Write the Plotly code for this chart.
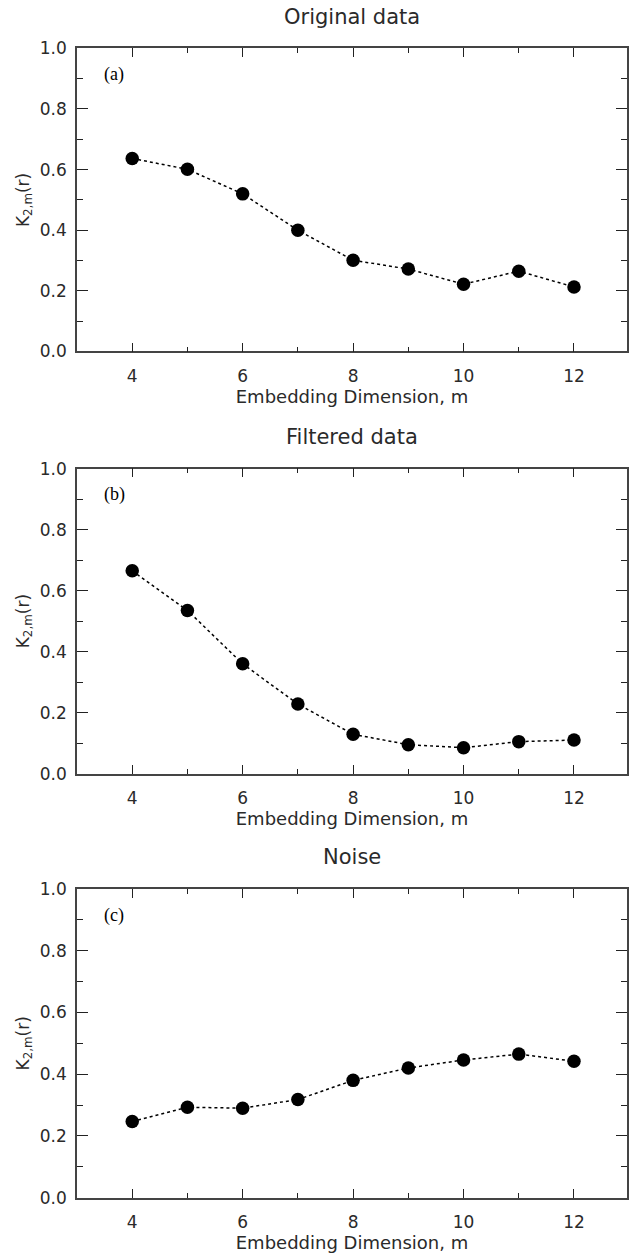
import plotly.graph_objects as go

m = [4, 5, 6, 7, 8, 9, 10, 11, 12]
k_original = [0.637, 0.601, 0.520, 0.400, 0.301, 0.272, 0.222, 0.265, 0.213]
k_filtered = [0.665, 0.535, 0.360, 0.228, 0.129, 0.095, 0.085, 0.105, 0.110]
k_noise = [0.247, 0.293, 0.290, 0.318, 0.380, 0.420, 0.446, 0.465, 0.442]

titles = ["Original data", "Filtered data", "Noise"]
panel_labels = ["(a)", "(b)", "(c)"]
series = [k_original, k_filtered, k_noise]

W, H = 629, 1257
# pixel positions (top, bottom) of each plot area
panels_px = [(39, 347), (466, 776), (893, 1207)]

fig = go.Figure()
tick_font = dict(family="DejaVu Sans", size=17, color="#2a2a2a")
title_font = dict(family="DejaVu Sans", size=18, color="#2a2a2a")

for i, (vals, (top, bot)) in enumerate(zip(series, panels_px)):
    n = "" if i == 0 else str(i + 1)
    xa = "xaxis" + n
    ya = "yaxis" + n
    fig.add_trace(go.Scatter(
        x=m, y=vals, mode="lines+markers",
        line=dict(color="black", width=1.5, dash="dot"),
        marker=dict(color="black", size=13.5),
        xaxis="x" + n, yaxis="y" + n, showlegend=False,
    ))
    dom = [1 - bot / H, 1 - top / H]
    fig.layout[xa] = dict(
        domain=[0, 1], anchor="y" + n, range=[3, 12.96],
        tickmode="linear", tick0=4, dtick=2,
        ticks="inside", ticklen=9, tickwidth=1.2, tickcolor="#222",
        minor=dict(ticks="inside", ticklen=5, dtick=1, tick0=3, tickcolor="#222", tickwidth=1.2),
        showline=True, linecolor="#444", linewidth=1.6, mirror="ticks",
        showgrid=False, zeroline=False, tickfont=tick_font,
        ticklabelstandoff=8,
        title=dict(text="Embedding Dimension, m", font=title_font, standoff=1),
    )
    fig.layout[ya] = dict(
        domain=dom, anchor="x" + n, range=[0, 1.0],
        tickmode="linear", tick0=0, dtick=0.2, tickformat=".1f",
        ticks="inside", ticklen=11, tickwidth=1.2, tickcolor="#222",
        minor=dict(ticks="inside", ticklen=6, dtick=0.1, tick0=0, tickcolor="#222", tickwidth=1.2),
        showline=True, linecolor="#444", linewidth=1.6, mirror="ticks",
        showgrid=False, zeroline=False, tickfont=tick_font,
        ticklabelstandoff=5,
        title=dict(text="K<sub>2,m</sub>(r)", font=tick_font, standoff=6),
    )
    fig.add_annotation(
        text=titles[i], xref="paper", yref="paper",
        x=0.5, y=1 - (top - 32) / H, xanchor="center", yanchor="middle",
        showarrow=False, font=dict(family="DejaVu Sans", size=21, color="#2a2a2a"),
    )
    fig.add_annotation(
        text=panel_labels[i], xref="x" + n, yref="y" + n,
        x=3.67, y=0.915, xanchor="center", yanchor="middle",
        showarrow=False, font=dict(family="Liberation Serif", size=18, color="black"),
    )

fig.update_layout(
    width=W, height=H, autosize=False,
    margin=dict(l=77, r=0, t=0, b=0),
    paper_bgcolor="white", plot_bgcolor="white",
)

fig.write_html("out.html")
